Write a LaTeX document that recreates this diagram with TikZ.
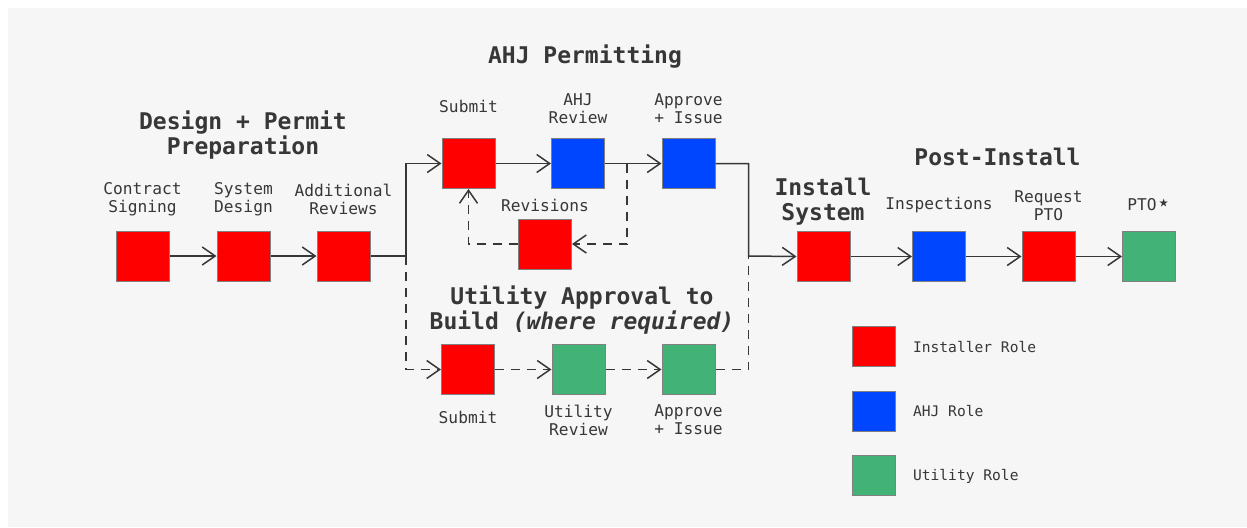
\documentclass[tikz,border=0pt]{standalone}
\usepackage{fontspec}
\setmainfont{DejaVu Sans Mono}
\newfontfamily\starfont{DejaVu Sans}
\usetikzlibrary{arrows.meta,positioning}
\definecolor{installerred}{RGB}{255,0,0}
\definecolor{ahjblue}{RGB}{0,70,255}
\definecolor{utilitygreen}{RGB}{66,178,118}
\definecolor{canvasgray}{RGB}{246,246,246}
\definecolor{inkgray}{RGB}{55,55,55}
\tikzset{
  every node/.append style={text=inkgray},
}
\begin{document}
\begin{tikzpicture}[
    x=0.5pt, y=-0.5pt,
    stage/.style={
        rectangle,
        draw=black!50,
        line width=0.5pt,
        minimum width=26.5pt,
        minimum height=25pt,
        inner sep=0pt
    },
    keybox/.style={stage, minimum width=21.5pt, minimum height=20pt},
    caption/.style={font=\fontsize{8.1}{9}\selectfont, align=center},
    keytext/.style={font=\fontsize{7.3}{8}\selectfont, anchor=west},
    heading/.style={font=\fontsize{11.5}{12.6}\selectfont\bfseries, align=center},
    flow/.style={
        draw=inkgray,
        line width=0.75pt,
        -{Straight Barb[length=6.5pt,width=9pt]}
    },
    dflow/.style={flow, dash pattern=on 4.5pt off 3.5pt}
]
% Canvas
\useasboundingbox (0,0) rectangle (1247,527);
\fill[canvasgray] (8,8) rectangle (1247,527);

% Design + Permit Preparation
\node[heading] (prephead) at (243,135) {Design + Permit\\Preparation};
\node[stage, fill=installerred] (sign) at (142.5,256) {};
\node[stage, fill=installerred] (design) at (243.5,256) {};
\node[stage, fill=installerred] (review) at (343.5,256) {};
\node[caption] (signlbl) at (142.5,199) {Contract\\Signing};
\node[caption] (designlbl) at (243.5,199) {System\\Design};
\node[caption] (reviewlbl) at (343.5,199) {Additional\\Reviews};

% AHJ Permitting
\node[heading] (ahjhead) at (585,57) {AHJ Permitting};
\node[stage, fill=installerred] (submit) at (468.5,163.5) {};
\node[stage, fill=ahjblue] (ahjrev) at (578,163.5) {};
\node[stage, fill=ahjblue] (issue) at (688.5,163.5) {};
\node[stage, fill=installerred] (revise) at (545,244) {};
\node[caption] (submitlbl) at (468.5,106.5) {Submit};
\node[caption] (ahjrevlbl) at (578,109) {AHJ\\Review};
\node[caption] (issuelbl) at (688.5,109) {Approve\\+ Issue};
\node[caption] (reviselbl) at (545,205) {Revisions};

% Utility Approval to Build
\node[heading] (utilhead) at (582,310) {Utility Approval to\\Build \textit{(where required)}};
\node[stage, fill=installerred] (usubmit) at (468,369.5) {};
\node[stage, fill=utilitygreen] (urev) at (578.5,369.5) {};
\node[stage, fill=utilitygreen] (uissue) at (688.5,369.5) {};
\node[caption] (usubmitlbl) at (468,417) {Submit};
\node[caption] (urevlbl) at (578.5,420) {Utility\\Review};
\node[caption] (uissuelbl) at (688.5,420) {Approve\\+ Issue};

% Install + Post-Install
\node[heading] (installhead) at (823,201.5) {Install\\System};
\node[heading] (posthead) at (997.5,157) {Post-Install};
\node[stage, fill=installerred] (install) at (823.5,256.5) {};
\node[stage, fill=ahjblue] (inspect) at (939,256.5) {};
\node[stage, fill=installerred] (request) at (1048.5,256.5) {};
\node[stage, fill=utilitygreen] (pto) at (1149,256.5) {};
\node[caption] (inspectlbl) at (939,205) {Inspections};
\node[caption] (requestlbl) at (1048.5,206) {Request\\PTO};
\node[caption] (ptolbl) at (1149,205) {PTO{\starfont\scalebox{1.4}{⋆}}};

% Legend
\node[keybox, fill=installerred] (keyinst) at (873.5,346.5) {};
\node[keybox, fill=ahjblue] (keyahj) at (873.5,411) {};
\node[keybox, fill=utilitygreen] (keyutil) at (873.5,475.5) {};
\node[keytext] (keyinstlbl) at (906,347) {Installer Role};
\node[keytext] (keyahjlbl) at (906,411.5) {AHJ Role};
\node[keytext] (keyutillbl) at (906,476) {Utility Role};

% Junction points
\coordinate (split) at (406,256);
\coordinate (merge) at (748.5,256);
\coordinate (loopout) at (627,163.5);

% Main flow
\draw[flow] (sign) -- (design);
\draw[flow] (design) -- (review);
\draw[flow] (review.east) -- (split) |- (submit.west);
\draw[flow] (submit) -- (ahjrev);
\draw[flow] (ahjrev) -- (issue);
\draw[flow] (issue.east) -| (merge) -- (install.west);
\draw[flow] (install) -- (inspect);
\draw[flow] (inspect) -- (request);
\draw[flow] (request) -- (pto);

% Revisions loop
\draw[dflow] (loopout) |- (revise.east);
\draw[dflow] (revise.west) -| (submit.south);

% Utility branch
\draw[dflow] (split) |- (usubmit.west);
\draw[dflow] (usubmit) -- (urev);
\draw[dflow] (urev) -- (uissue);
\draw[dflow, -] (uissue.east) -| (merge);
\end{tikzpicture}
\end{document}
